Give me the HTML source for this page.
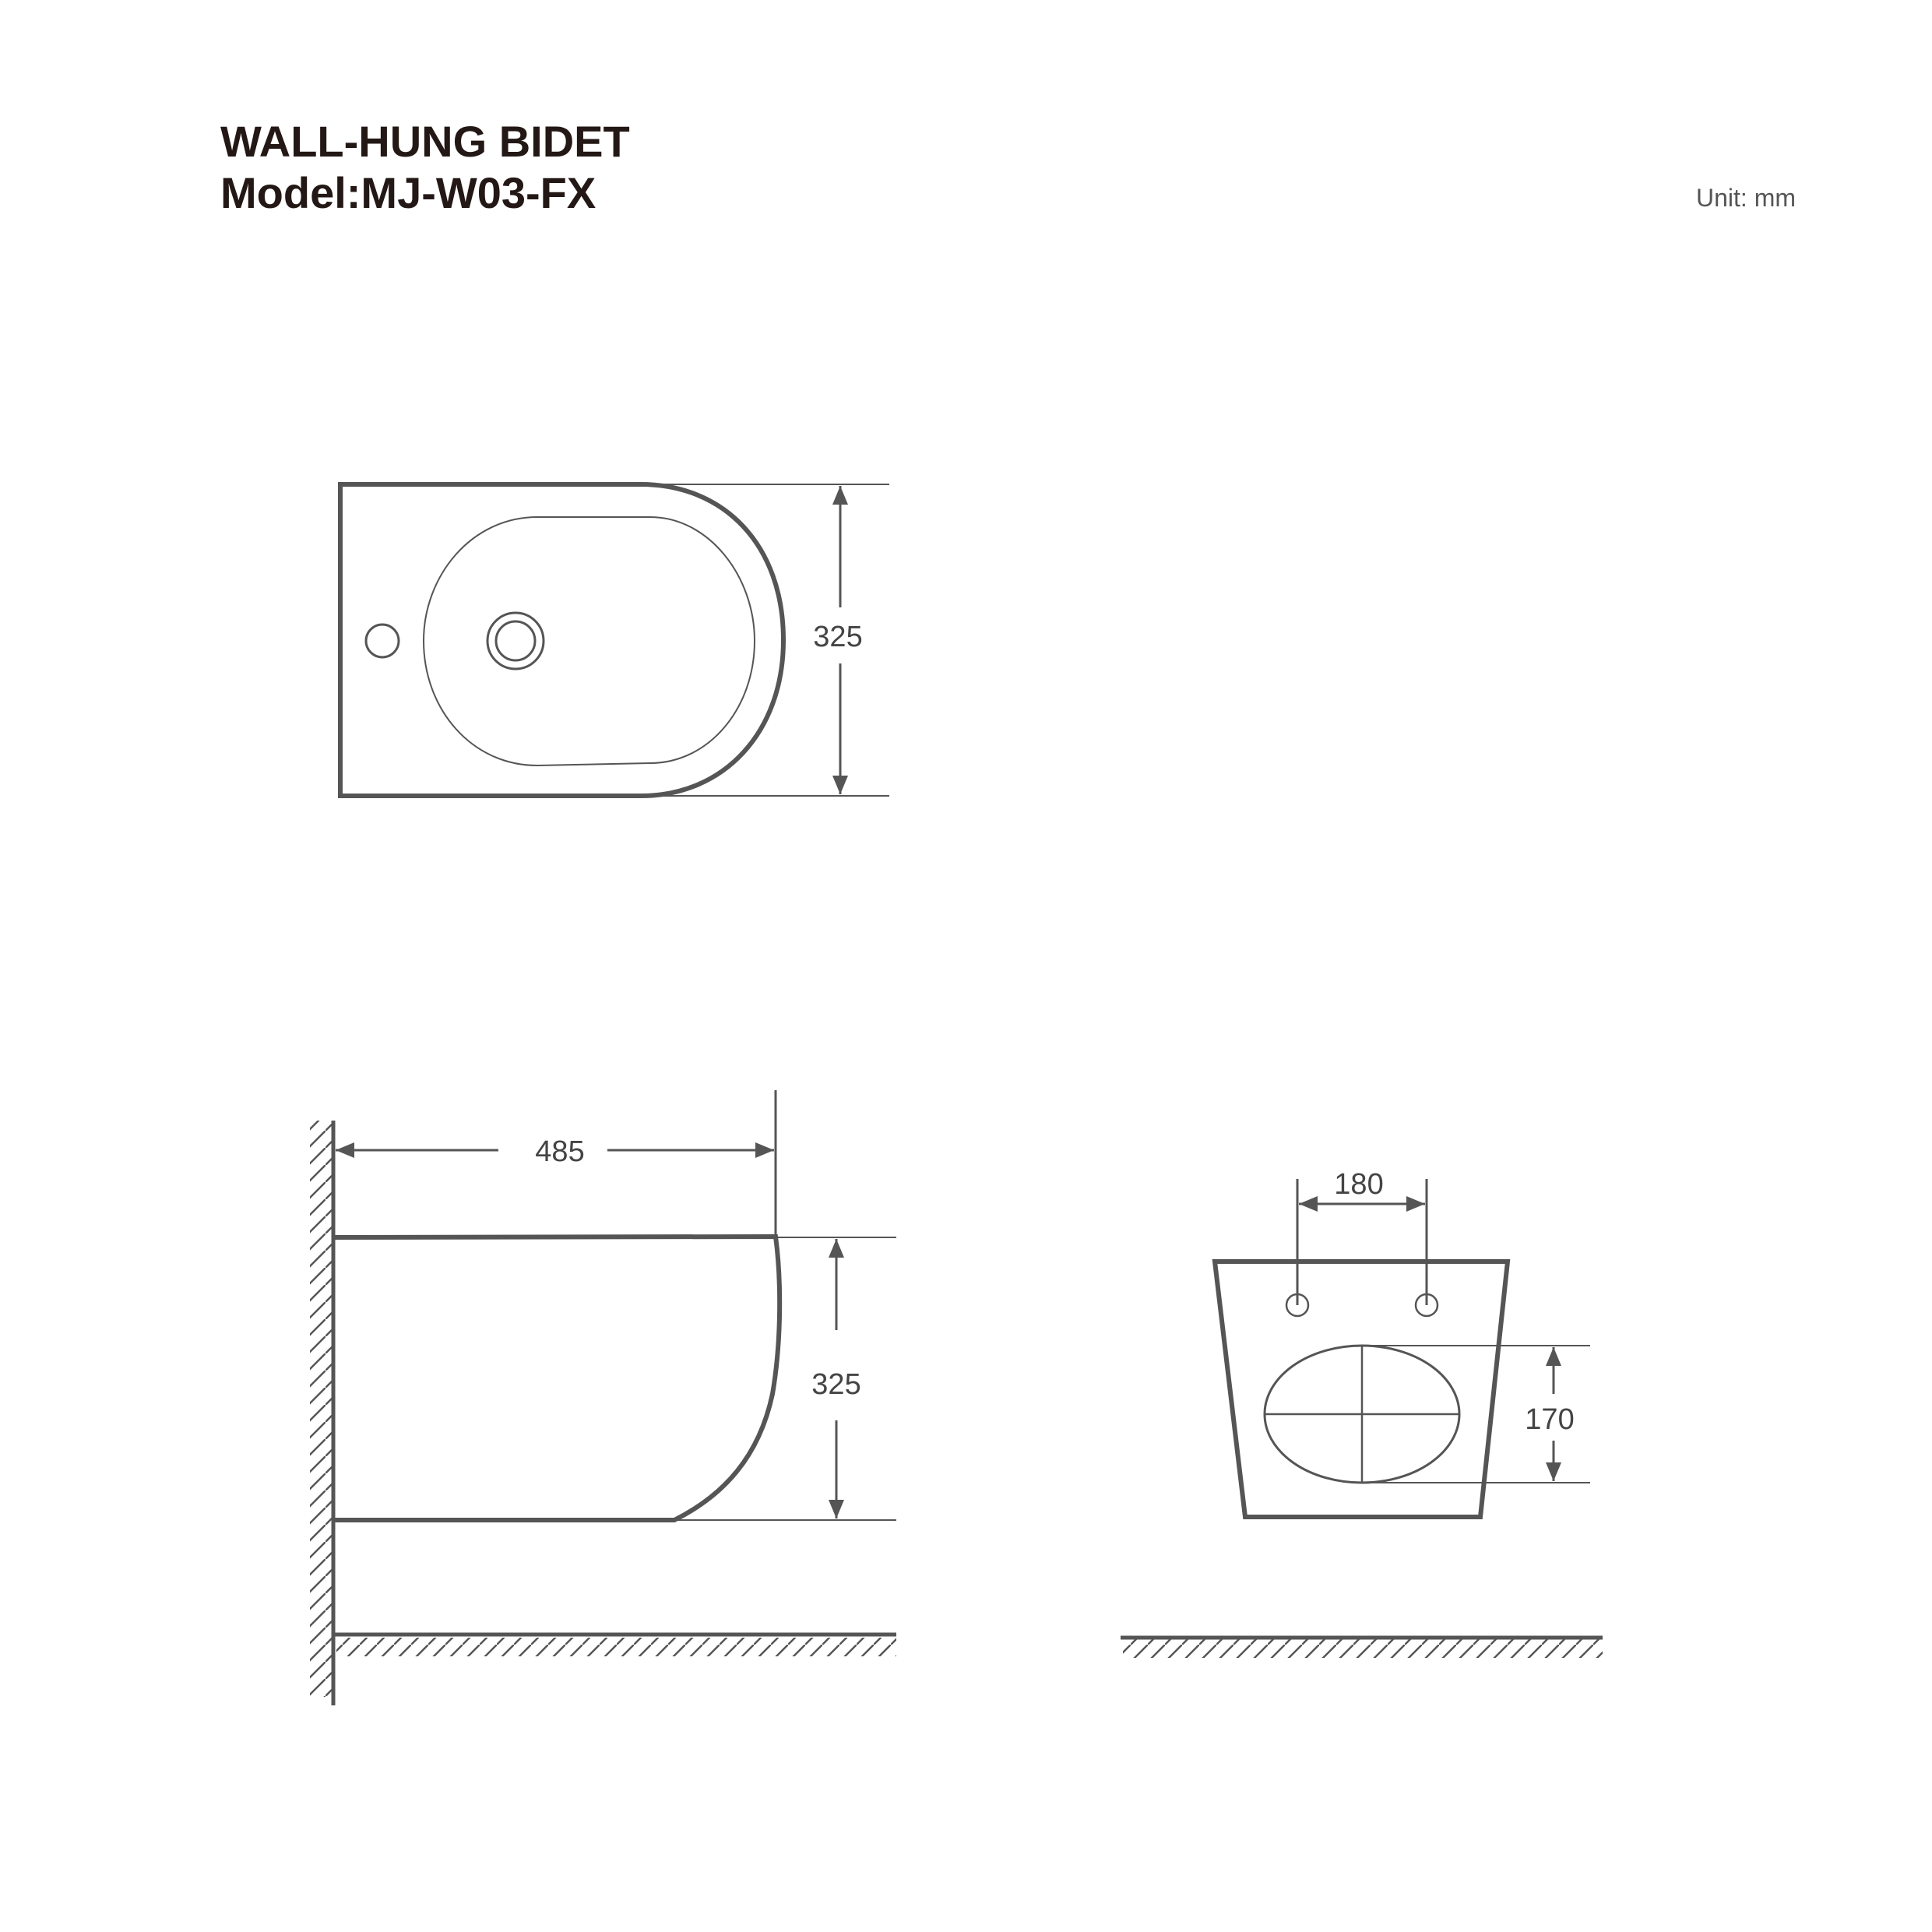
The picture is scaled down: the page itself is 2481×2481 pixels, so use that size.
<!DOCTYPE html>
<html><head><meta charset="utf-8"><style>html,body{margin:0;padding:0;background:#fff}svg{display:block}</style></head>
<body>
<svg width="2481" height="2481" viewBox="0 0 2481 2481" xmlns="http://www.w3.org/2000/svg">
<defs>
<marker id="b" viewBox="0 0 24 20" refX="24" refY="10" markerWidth="24" markerHeight="20" markerUnits="userSpaceOnUse" orient="auto-start-reverse"><path d="M0,0 L24,10 L0,20 z" fill="#555"/></marker>
<pattern id="hv" width="22" height="22" patternUnits="userSpaceOnUse"><line x1="0" y1="22" x2="22" y2="0" stroke="#555" stroke-width="2.5"/></pattern>
</defs>
<text x="283" y="201" font-family="Liberation Sans, sans-serif" font-weight="bold" font-size="56" fill="#231815">WALL-HUNG BIDET</text>
<text x="283" y="267" font-family="Liberation Sans, sans-serif" font-weight="bold" font-size="56" fill="#231815">Model:MJ-W03-FX</text>
<text x="2178" y="265" font-family="Liberation Sans, sans-serif" font-size="32" fill="#555">Unit: mm</text>

<g fill="none" stroke="#555">
<path d="M823,622 L437,622 L437,1022 L823,1022 C930,1022 1006,940 1006,822 C1006,700 930,622 823,622" stroke-width="6"/>
<path d="M690,664 L835,664 C910,664 969,740 969,823 C969,910 910,980 835,980 L690,983 C605,983 544,910 544,823 C544,740 605,664 690,664 Z" stroke-width="2"/>
<circle cx="491" cy="823" r="21" stroke-width="3"/>
<circle cx="662" cy="823" r="36" stroke-width="3"/>
<circle cx="662" cy="823" r="25" stroke-width="3"/>
<line x1="823" y1="622" x2="1142" y2="622" stroke-width="2"/>
<line x1="823" y1="1022" x2="1142" y2="1022" stroke-width="2"/>
<line x1="1079" y1="624" x2="1079" y2="780" stroke-width="3" marker-start="url(#b)"/>
<line x1="1079" y1="852" x2="1079" y2="1020" stroke-width="3" marker-end="url(#b)"/>

<rect x="398" y="1439" width="28" height="740" fill="url(#hv)" stroke="none"/>
<rect x="432" y="2103" width="719" height="24" fill="url(#hv)" stroke="none"/>
<line x1="428" y1="1439" x2="428" y2="2190" stroke-width="5"/>
<line x1="428" y1="2099" x2="1151" y2="2099" stroke-width="5"/>
<path d="M428,1589 L996,1588 C1003,1640 1004,1720 992,1790 C975,1870 930,1920 866,1952 L428,1952" stroke-width="6"/>
<line x1="996" y1="1400" x2="996" y2="1588" stroke-width="3"/>
<line x1="996" y1="1589" x2="1151" y2="1589" stroke-width="2"/>
<line x1="866" y1="1952" x2="1151" y2="1952" stroke-width="2"/>
<line x1="431" y1="1477" x2="640" y2="1477" stroke-width="3" marker-start="url(#b)"/>
<line x1="780" y1="1477" x2="994" y2="1477" stroke-width="3" marker-end="url(#b)"/>
<line x1="1074" y1="1591" x2="1074" y2="1708" stroke-width="3" marker-start="url(#b)"/>
<line x1="1074" y1="1824" x2="1074" y2="1950" stroke-width="3" marker-end="url(#b)"/>

<path d="M1560,1620 L1936,1620 L1901,1948 L1599,1948 Z" stroke-width="6"/>
<circle cx="1666" cy="1676" r="14" stroke-width="2.5"/>
<circle cx="1832" cy="1676" r="14" stroke-width="2.5"/>
<line x1="1666" y1="1514" x2="1666" y2="1676" stroke-width="3"/>
<line x1="1832" y1="1514" x2="1832" y2="1676" stroke-width="3"/>
<line x1="1668" y1="1546" x2="1830" y2="1546" stroke-width="3" marker-start="url(#b)" marker-end="url(#b)"/>
<ellipse cx="1749" cy="1816" rx="125" ry="88" stroke-width="3"/>
<line x1="1624" y1="1816" x2="1874" y2="1816" stroke-width="2.5"/>
<line x1="1749" y1="1728" x2="1749" y2="1904" stroke-width="2.5"/>
<line x1="1749" y1="1728" x2="2042" y2="1728" stroke-width="2"/>
<line x1="1749" y1="1904" x2="2042" y2="1904" stroke-width="2"/>
<line x1="1995" y1="1730" x2="1995" y2="1790" stroke-width="3" marker-start="url(#b)"/>
<line x1="1995" y1="1850" x2="1995" y2="1902" stroke-width="3" marker-end="url(#b)"/>
<rect x="1442" y="2105" width="616" height="24" fill="url(#hv)" stroke="none"/>
<line x1="1439" y1="2103" x2="2058" y2="2103" stroke-width="5"/>
</g>

<g font-family="Liberation Sans, sans-serif" font-size="38" fill="#444" text-anchor="middle">
<text x="1076" y="830">325</text>
<text x="719" y="1491">485</text>
<text x="1074" y="1790">325</text>
<text x="1745" y="1533">180</text>
<text x="1990" y="1835">170</text>
</g>
</svg>
</body></html>
